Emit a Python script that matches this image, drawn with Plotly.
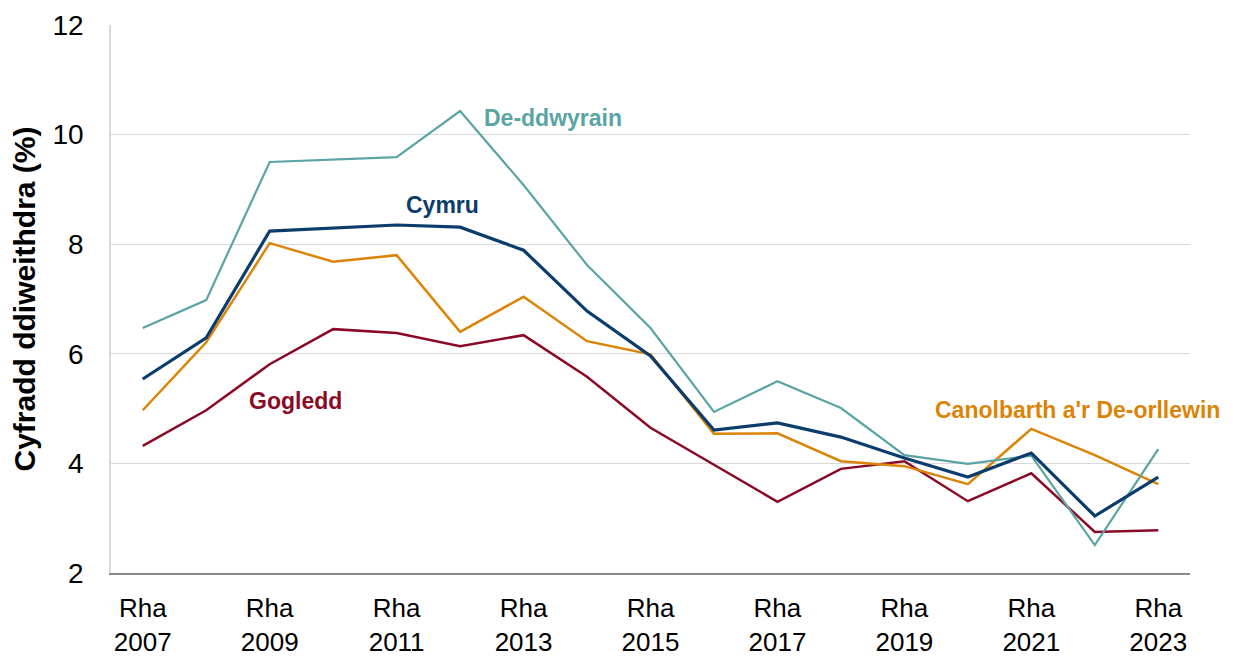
import plotly.graph_objects as go

years = list(range(2007, 2024))
de_ddwyrain = [6.47, 6.98, 9.50, 9.55, 9.59, 10.43, 9.08, 7.62, 6.47, 4.94, 5.50, 5.01, 4.15, 3.99, 4.14, 2.51, 4.26]
cymru = [5.54, 6.29, 8.24, 8.30, 8.35, 8.31, 7.89, 6.78, 5.96, 4.61, 4.74, 4.48, 4.10, 3.75, 4.19, 3.04, 3.75]
canolbarth = [4.97, 6.21, 8.02, 7.68, 7.80, 6.40, 7.04, 6.23, 5.99, 4.54, 4.55, 4.04, 3.95, 3.62, 4.63, 4.15, 3.62]
gogledd = [4.32, 4.97, 5.81, 6.45, 6.38, 6.14, 6.34, 5.58, 4.65, 3.97, 3.30, 3.90, 4.04, 3.31, 3.82, 2.75, 2.78]

tick_years = list(range(2007, 2024, 2))
tick_text = [f"Rha<br>{y}" for y in tick_years]

C_TEAL = "#5BA4A4"
C_NAVY = "#0B3C6B"
C_ORANGE = "#DC8407"
C_MAROON = "#8A0A26"

series = [
    ("Gogledd", gogledd, C_MAROON, 2.5),
    ("Canolbarth a'r De-orllewin", canolbarth, C_ORANGE, 2.5),
    ("De-ddwyrain", de_ddwyrain, C_TEAL, 2.2),
    ("Cymru", cymru, C_NAVY, 3.2),
]

fig = go.Figure()
for name, vals, col, w in series:
    fig.add_trace(go.Scatter(x=years, y=vals, mode="lines", name=name,
                             line=dict(color=col, width=w), showlegend=False))

labels = [
    ("De-ddwyrain", 2013.47, 10.30, C_TEAL),
    ("Cymru", 2011.72, 8.72, C_NAVY),
    ("Gogledd", 2009.41, 5.14, C_MAROON),
    ("Canolbarth a'r De-orllewin", 2021.72, 4.97, C_ORANGE),
]
for txt, x, y, col in labels:
    fig.add_annotation(x=x, y=y, text=f"<b>{txt}</b>", showarrow=False,
                       font=dict(family="Liberation Sans, Arial", size=23, color=col))

# page body has an 8px margin, so the figure is drawn 8px in from the top-left
fig.update_layout(
    width=1227, height=649,
    margin=dict(l=103, r=45, t=17, b=84),
    plot_bgcolor="white", paper_bgcolor="white",
    font=dict(family="Liberation Sans, Arial", color="black"),
)
fig.update_xaxes(range=[2006.5, 2023.5], tickvals=tick_years, ticktext=tick_text,
                 showgrid=False, showline=True, linecolor="#8c8c8c", linewidth=1.5,
                 tickfont=dict(size=26), ticks="", zeroline=False,
                 ticklabelstandoff=11, automargin=False)
fig.update_yaxes(range=[2, 12], dtick=2, showgrid=True, gridcolor="#d9d9d9", gridwidth=1,
                 showline=True, linecolor="#d9d9d9", linewidth=1.5,
                 tickfont=dict(size=28), ticks="", zeroline=False,
                 ticklabelstandoff=20, automargin=False,
                 title=dict(text="<b>Cyfradd ddiweithdra (%)</b>", font=dict(size=30), standoff=12))

fig.write_html("out.html")
